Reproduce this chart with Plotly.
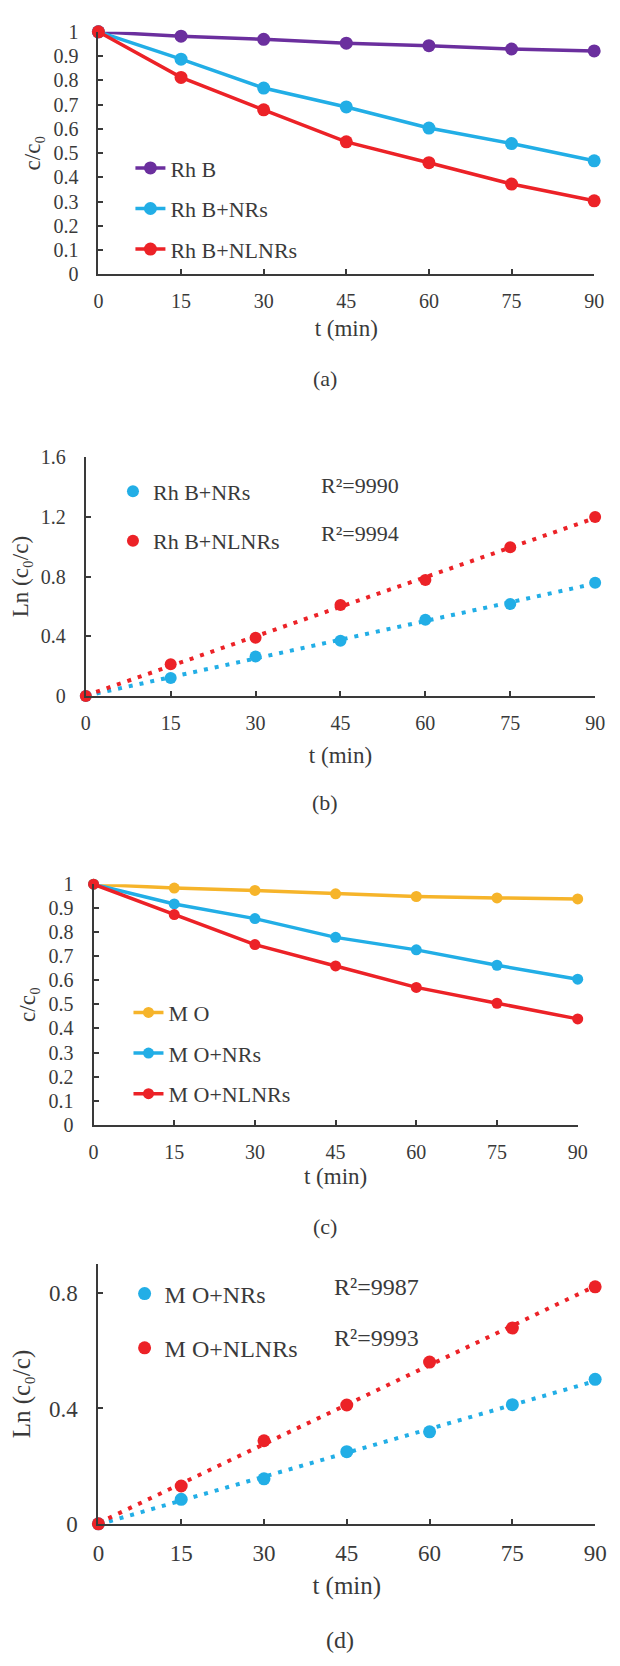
import numpy as np
import plotly.graph_objects as go

# ---------------- data ----------------
t = [0, 15, 30, 45, 60, 75, 90]
x_ticks = [0, 15, 30, 45, 60, 75, 90]

# (a) Rh B degradation, c/c0
rhb = [1.0, 0.982, 0.969, 0.953, 0.943, 0.929, 0.921]
rhb_nrs = [1.0, 0.887, 0.768, 0.690, 0.603, 0.539, 0.468]
rhb_nlnrs = [1.0, 0.812, 0.678, 0.546, 0.460, 0.372, 0.303]

# (b) Ln(c0/c) for Rh B
ln_rhb_nrs = [0.0, 0.121, 0.264, 0.370, 0.511, 0.616, 0.759]
ln_rhb_nlnrs = [0.0, 0.213, 0.390, 0.610, 0.777, 0.997, 1.199]
r2_b = ["9990", "9994"]

# (c) M O degradation, c/c0
mo = [1.0, 0.984, 0.974, 0.960, 0.949, 0.943, 0.939]
mo_nrs = [1.0, 0.918, 0.857, 0.779, 0.727, 0.663, 0.605]
mo_nlnrs = [1.0, 0.874, 0.749, 0.660, 0.571, 0.505, 0.440]
mo_err = [0.0, 0.007, 0.007, 0.007, 0.007, 0.007, 0.007]

# (d) Ln(c0/c) for M O
ln_mo_nrs = [0.0, 0.085, 0.156, 0.250, 0.319, 0.413, 0.501]
ln_mo_nlnrs = [0.0, 0.131, 0.288, 0.412, 0.561, 0.679, 0.822]
r2_d = ["9987", "9993"]

# ---------------- style ----------------
# page body has an 8px default margin, so the figure is drawn 16px smaller
OFF = 8
W, H = 620 - 2 * OFF, 1666 - 2 * OFF
PURPLE = "#6B2F9E"
CYAN = "#22AEE6"
RED = "#EC2227"
YELLOW = "#F6B42A"
INK = "#3a3a3a"
FONT = "Liberation Serif, DejaVu Serif"


def px(x):
    return (x - OFF) / W


def py(y):
    return 1 - (y - OFF) / H


fig = go.Figure()


def line_trace(x, y, color, name, xa, ya, legend, group, size=12, width=3.5, err=None):
    kw = {}
    if err is not None:
        kw["error_y"] = dict(type="data", array=err, visible=True, color="#111111",
                             thickness=1.5, width=3)
    fig.add_trace(go.Scatter(
        x=x, y=y, mode="lines+markers", name=name,
        line=dict(color=color, width=width),
        marker=dict(color=color, size=size),
        xaxis=xa, yaxis=ya, legend=legend, legendgroup=group,
        cliponaxis=False, **kw))


def fit_trace(x, y, color, xa, ya):
    k, b = np.polyfit(x, y, 1)
    xs = [x[0], x[-1]]
    ys = [k * v + b for v in xs]
    fig.add_trace(go.Scatter(
        x=xs, y=ys, mode="lines", showlegend=False, hoverinfo="skip",
        line=dict(color=color, width=4, dash="4px,7px"),
        xaxis=xa, yaxis=ya, cliponaxis=False))


def point_trace(x, y, color, name, xa, ya, legend, group, size=12):
    fig.add_trace(go.Scatter(
        x=x, y=y, mode="markers", name=name,
        marker=dict(color=color, size=size),
        xaxis=xa, yaxis=ya, legend=legend, legendgroup=group,
        cliponaxis=False))


# (a)
line_trace(t, rhb, PURPLE, "Rh B", "x", "y", "legend", "a1", size=13)
line_trace(t, rhb_nrs, CYAN, "Rh B+NRs", "x", "y", "legend", "a2", size=13)
line_trace(t, rhb_nlnrs, RED, "Rh B+NLNRs", "x", "y", "legend", "a3", size=13)

# (b)
fit_trace(t, ln_rhb_nrs, CYAN, "x2", "y2")
fit_trace(t, ln_rhb_nlnrs, RED, "x2", "y2")
point_trace(t, ln_rhb_nrs, CYAN, "Rh B+NRs", "x2", "y2", "legend2", "b1")
point_trace(t, ln_rhb_nlnrs, RED, "Rh B+NLNRs", "x2", "y2", "legend2", "b2")

# (c)
line_trace(t, mo, YELLOW, "M O", "x3", "y3", "legend3", "c1", size=11, width=3.5, err=mo_err)
line_trace(t, mo_nrs, CYAN, "M O+NRs", "x3", "y3", "legend3", "c2", size=11, width=3.5, err=mo_err)
line_trace(t, mo_nlnrs, RED, "M O+NLNRs", "x3", "y3", "legend3", "c3", size=11, width=3.5, err=mo_err)

# (d)
fit_trace(t, ln_mo_nrs, CYAN, "x4", "y4")
fit_trace(t, ln_mo_nlnrs, RED, "x4", "y4")
point_trace(t, ln_mo_nrs, CYAN, "M O+NRs", "x4", "y4", "legend4", "d1", size=13)
point_trace(t, ln_mo_nlnrs, RED, "M O+NLNRs", "x4", "y4", "legend4", "d2", size=13)


def xaxis(domain, anchor, fs, tfs, standoff):
    return dict(domain=domain, anchor=anchor, range=[0, 90], tickmode="array",
                tickvals=x_ticks, ticks="inside", ticklen=5, tickwidth=1.5,
                tickcolor=INK, showline=True, linecolor=INK, linewidth=2,
                showgrid=False, zeroline=False, ticklabelstandoff=8,
                tickfont=dict(family=FONT, size=fs, color=INK), fixedrange=True,
                title=dict(text="t (min)", standoff=standoff,
                           font=dict(family=FONT, size=tfs, color=INK)))


def yaxis(domain, anchor, rng, dtick, fs, title, tfs, standoff):
    return dict(domain=domain, anchor=anchor, range=rng, tickmode="linear",
                tick0=0, dtick=dtick, ticks="inside", ticklen=5, tickwidth=1.5,
                tickcolor=INK, showline=True, linecolor=INK, linewidth=2,
                showgrid=False, zeroline=False, ticklabelstandoff=14,
                tickfont=dict(family=FONT, size=fs, color=INK), fixedrange=True,
                title=dict(text=title, standoff=standoff,
                           font=dict(family=FONT, size=tfs, color=INK)))


def legend(x, y, fs, gap):
    return dict(x=px(x), y=py(y), xanchor="left", yanchor="top",
                bgcolor="rgba(0,0,0,0)", borderwidth=0,
                font=dict(family=FONT, size=fs, color=INK),
                tracegroupgap=gap, traceorder="grouped", itemclick=False,
                itemdoubleclick=False)


CC0 = "c/c\u2080"
LN = "Ln (c\u2080/c)"

fig.update_layout(
    width=W, height=H, margin=dict(l=0, r=0, t=0, b=0),
    paper_bgcolor="white", plot_bgcolor="white",
    font=dict(family=FONT, color=INK),
    xaxis=xaxis([px(95), px(606)], "y", 20, 23, 9),
    yaxis=yaxis([py(267), py(21)], "x", [0, 1], 0.1, 20, CC0, 23, 6),
    xaxis2=xaxis([px(82), px(607)], "y2", 20, 23, 14),
    yaxis2=yaxis([py(695), py(452.7)], "x2", [0, 1.6], 0.4, 20, LN, 23, 7),
    xaxis3=xaxis([px(90), px(589)], "y3", 20, 23, 6),
    yaxis3=yaxis([py(1130), py(886)], "x3", [0, 1], 0.1, 20, CC0, 23, 7),
    xaxis4=xaxis([px(95), px(607)], "y4", 23, 25, 11),
    yaxis4=yaxis([py(1535), py(1271.7)], "x4", [0, 0.9], 0.4, 23, LN, 25, 12),
    legend=legend(128, 138, 22, 9),
    legend2=legend(110, 466, 22, 18),
    legend3=legend(126, 995, 22, 9),
    legend4=legend(122, 1279, 24, 20),
)

ann = []


def text(x, y, s, fs, xanchor="center"):
    ann.append(dict(x=px(x), y=py(y), xref="paper", yref="paper", text=s,
                    showarrow=False, xanchor=xanchor, yanchor="middle",
                    font=dict(family=FONT, size=fs, color=INK)))


# panel labels
text(329, 373, "(a)", 22)
text(329, 803, "(b)", 22)
text(329, 1233, "(c)", 22)
text(344, 1653, "(d)", 24)

# R² labels
text(322, 481.7, "R\u00b2=" + r2_b[0], 22, xanchor="left")
text(322, 530, "R\u00b2=" + r2_b[1], 22, xanchor="left")
text(336, 1295, "R\u00b2=" + r2_d[0], 24, xanchor="left")
text(336, 1346.7, "R\u00b2=" + r2_d[1], 24, xanchor="left")

fig.update_layout(annotations=ann)

fig.write_html("out.html")
